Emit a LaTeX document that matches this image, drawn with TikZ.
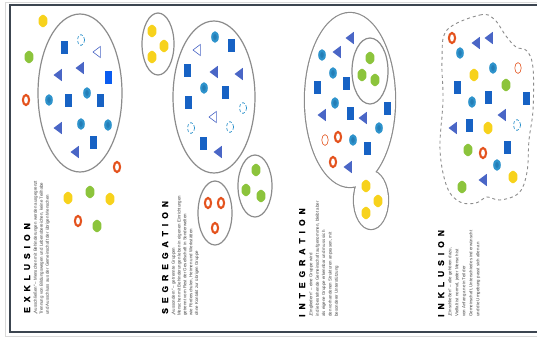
\documentclass[tikz,border=0pt]{standalone}
\usepackage{fontspec}
\setmainfont{Liberation Sans}
\newfontfamily\ttlfont[FakeBold=1.2]{Liberation Sans Bold}
\definecolor{sqc}{HTML}{1762C4}
\definecolor{sqb}{HTML}{0A5CF0}
\definecolor{cic}{HTML}{2E93CC}
\definecolor{cid}{HTML}{1E6FA8}
\definecolor{trc}{HTML}{4A66C6}
\definecolor{yec}{HTML}{F7D21C}
\definecolor{grc}{HTML}{8CC43C}
\definecolor{rrc}{HTML}{E4531E}
\definecolor{grp}{HTML}{8C8C8C}
\definecolor{frm}{HTML}{3C4550}
\definecolor{txt}{HTML}{454545}
\newcommand\ls{\kern5pt}
\newcommand\SQ[2]{\fill[sqc,shift={(#1,#2)}] (-3.5,-6.5) rectangle (3.5,6.5);}
\newcommand\SQB[2]{\fill[sqb,shift={(#1,#2)}] (-3.5,-6.5) rectangle (3.5,6.5);}
\newcommand\CI[2]{\fill[cic,shift={(#1,#2)}] (0,0) ellipse (3.8pt and 5.8pt);\fill[cid,opacity=.6,shift={(#1,#2)}] (0,0) ellipse (1.8pt and 3pt);}
\newcommand\CIo[2]{\draw[cic,densely dashed,line width=.7pt,shift={(#1,#2)}] (0,0) ellipse (3.6pt and 5.4pt);}
\newcommand\TR[2]{\fill[trc,shift={(#1,#2)}] (-4.5,0) -- (3.8,-6.2) -- (3.8,6.2) -- cycle;}
\newcommand\TRo[2]{\draw[trc,line width=.6pt,shift={(#1,#2)}] (-4,0) -- (3.4,-5.6) -- (3.4,5.6) -- cycle;}
\newcommand\YE[2]{\fill[yec,rounded corners=1.2pt,shift={(#1,#2)}] (0,-6.8) -- (4.4,-3.3) -- (4.4,3.3) -- (0,6.8) -- (-4.4,3.3) -- (-4.4,-3.3) -- cycle;}
\newcommand\GR[2]{\fill[grc,rounded corners=1.2pt,shift={(#1,#2)}] (0,-6.8) -- (4.4,-3.3) -- (4.4,3.3) -- (0,6.8) -- (-4.4,3.3) -- (-4.4,-3.3) -- cycle;}
\newcommand\RR[2]{\draw[rrc,line width=2.1pt,fill=white,shift={(#1,#2)}] (0,0) ellipse (3.1pt and 5pt);}
\newcommand\RRo[2]{\draw[rrc,line width=.6pt,shift={(#1,#2)}] (0,0) ellipse (3.2pt and 5.4pt);}
\tikzset{
  grpline/.style={draw=grp,line width=1.2pt},
  ttl/.style={rotate=90,inner sep=0pt,text=black,font=\ttlfont\fontsize{8.5}{10}\selectfont},
  subtxt/.style={rotate=90,inner sep=0pt,anchor=north west,align=left,text=txt},
}
\begin{document}
\begin{tikzpicture}[x=1pt,y=-1pt]
\useasboundingbox (0,0) rectangle (537,338);
\fill[white] (0,0) rectangle (537,338);
\clip (0,0) rectangle (537,338);
% frame
\draw[black!15,line width=.8pt] (5,2) rectangle (560,336);
\draw[frm,line width=1.3pt] (10,5) rectangle (560,332);

% ---------- EXKLUSION ----------
\draw[grpline] (80,93) ellipse (42pt and 79pt);
\SQ{64}{47}\SQ{68}{100}\SQ{100}{100}\SQ{93}{142}\SQB{108}{77}
\TR{58}{75}\TR{80}{68}\TR{58}{128}\TR{75}{152}
\CI{49}{100}\CI{87}{93}\CI{81}{124}\CI{108}{125}
\CIo{81}{40}\TRo{97}{52}
\YE{43}{21}\YE{68}{198}\YE{110}{199}
\GR{29}{57}\GR{90}{192}\GR{97}{226}
\RR{26}{100}\RR{117}{167}\RR{78}{221}
\node[ttl,anchor=base west] (t1) at (30,313) {E\ls X\ls K\ls L\ls U\ls S\ls I\ls O\ls N};
\node[subtxt,font=\fontsize{4.4}{6}\selectfont] (s1) at (33.5,315) {%
„Ausschließen“ – Menschen mit Behinderungen werden ausgegrenzt\\
Trennung von Bildungswegen und Lebensbereichen, keine Teilhabe\\
und Ausschluss aus der Gemeinschaft der übrigen Menschen};

% ---------- SEGREGATION ----------
\draw[grpline] (158,44) ellipse (16pt and 31pt);
\draw[grpline] (214,97) ellipse (41pt and 76pt);
\draw[grpline] (255,186) ellipse (17pt and 31pt);
\draw[grpline] (215,213) ellipse (17pt and 32pt);
\YE{152}{31}\YE{164}{46}\YE{152}{57}
\CI{215}{37}\CI{204}{88}
\SQ{231}{45}\SQ{187}{70}\SQ{225}{92}\SQ{188}{102}\SQ{203}{143}
\TRo{197}{50}\TRo{213}{117}
\TR{214}{72}\TR{239}{74}\TR{218}{152}
\CIo{243}{108}\CIo{191}{128}\CIo{230}{127}
\GR{256}{170}\GR{246}{190}\GR{261}{196}
\RR{208}{203}\RR{221}{203}\RR{215}{228}
\node[ttl,anchor=base west] (t2) at (168,314) {S\ls E\ls G\ls R\ls E\ls G\ls A\ls T\ls I\ls O\ls N};
\node[subtxt,font=\fontsize{4.4}{5.8}\selectfont] (s2) at (171.5,316) {%
„Aussondern“ – getrennte Gruppen\\
Menschen mit Behinderungen leben in eigenen Einrichtungen\\
getrennt vom Rest der Gesellschaft in Sonderwelten\\
wie Förderschulen, Heimen und Werkstätten\\
ohne Kontakt zur übrigen Gruppe};

% ---------- INTEGRATION ----------
\draw[draw=grp,line width=2.4pt] (350,100) ellipse (45pt and 87pt);
\draw[draw=grp,line width=2.4pt] (371,200) ellipse (17pt and 29pt);
\fill[white] (350,100) ellipse (45pt and 87pt);
\fill[white] (371,200) ellipse (17pt and 29pt);
\draw[grpline] (370,71) ellipse (18pt and 33pt);
\TR{350}{38}\TR{337}{52}\TR{322}{115}\TR{363}{118}\TR{348}{167}
\CI{322}{55}\CI{333}{73}\CI{335}{103}\CI{379}{128}\CI{353}{140}
\SQ{317}{87}\SQ{346}{83}\SQ{350}{113}\SQ{387}{108}\SQ{367}{148}
\GR{370}{58}\GR{362}{75}\GR{375}{80}
\RRo{325}{140}\RR{338}{137}\RR{333}{162}
\YE{366}{186}\YE{378}{201}\YE{366}{213}
\node[ttl,anchor=base west] (t3) at (305,317) {I\ls N\ls T\ls E\ls G\ls R\ls A\ls T\ls I\ls O\ls N};
\node[subtxt,font=\fontsize{4.4}{6.4}\selectfont] (s3) at (309,317) {%
„Eingliedern“ – eine Gruppe wird\\
in die bestehende Gemeinschaft aufgenommen, bleibt aber\\
als eigene Gruppe erkennbar und muss sich\\
den vorhandenen Strukturen anpassen, mit\\
besonderer Unterstützung};

% ---------- INKLUSION ----------
\draw[draw=grp,line width=.9pt,dashed] plot[smooth cycle,tension=.6] coordinates {
 (447,30) (480,15) (494,19) (506,36) (516,47) (527,51) (533,68) (533,110)
 (529,140) (527,172) (519,193) (500,200) (487,197) (476,203) (460,202)
 (447,187) (440,150) (443,100) (442,60)};
\RR{452}{38}\RRo{518}{68}
\CI{460}{53}\CI{493}{68}\CI{472}{102}\CI{497}{165}
\TR{476}{43}\TR{489}{38}\TR{502}{115}\TR{453}{128}\TR{483}{180}
\YE{474}{75}\YE{488}{128}\YE{513}{177}
\SQ{457}{87}\SQ{488}{97}\SQ{526}{98}\SQ{469}{125}\SQ{507}{147}
\GR{506}{85}\GR{468}{150}\GR{462}{187}
\CIo{517}{125}
\RR{483}{153}
\node[ttl,anchor=base west] (t4) at (444,317) {I\ls N\ls K\ls L\ls U\ls S\ls I\ls O\ls N};
\node[subtxt,font=\fontsize{4.4}{7}\selectfont] (s4) at (448,317) {%
„Einschließen“ – alle gehören dazu,\\
Vielfalt ist normal, jeder Mensch ist\\
von Anfang an ein Teil der\\
Gemeinschaft, Unterschiede sind erwünscht\\
und die Umgebung passt sich allen an};
\end{tikzpicture}
\end{document}
